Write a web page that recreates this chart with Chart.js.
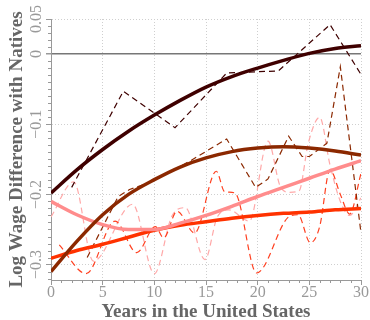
<!DOCTYPE html>
<html><head><meta charset="utf-8">
<script src="https://cdn.jsdelivr.net/npm/chart.js@4"></script>
<style>html,body{margin:0;padding:0;background:#fff}</style>
</head><body>
<canvas id="c" width="370" height="320"></canvas>
<script>
// tick positions and labels
const xTicks = [0, 5, 10, 15, 20, 25, 30];
const yTicks = [-0.3, -0.2, -0.1, 0, 0.05];
const yTickLabels = ['\u22120.3', '\u22120.2', '\u22120.1', '0', '0.05'];

// fitted (smooth) profiles, read every 2.5 years
const fitYears = [0, 2.5, 5, 7.5, 10, 12.5, 15, 17.5, 20, 22.5, 25, 27.5, 30];
const fitDark  = [-0.198, -0.165, -0.136, -0.110, -0.087, -0.066, -0.047, -0.032, -0.020, -0.009, 0.001, 0.008, 0.012];
const fitBrown = [-0.310, -0.267, -0.229, -0.200, -0.179, -0.161, -0.148, -0.139, -0.134, -0.132, -0.134, -0.138, -0.144];
const fitPink  = [-0.210, -0.229, -0.243, -0.250, -0.250, -0.241, -0.230, -0.217, -0.203, -0.190, -0.177, -0.164, -0.152];
const fitRed   = [-0.291, -0.280, -0.271, -0.261, -0.251, -0.244, -0.239, -0.234, -0.230, -0.227, -0.225, -0.222, -0.220];

// observed (dashed) profiles
const obsDarkYears  = [2, 7, 12, 17, 22, 27, 30];
const obsDark       = [-0.190, -0.053, -0.105, -0.027, -0.024, 0.042, -0.029];
const obsBrownYears = [3.5, 6.5, 7.6, 9, 11, 13.5, 17, 19.8, 21, 23, 24.3, 25, 26.7, 28, 30];
const obsBrown      = [-0.290, -0.203, -0.193, -0.186, -0.172, -0.152, -0.121, -0.190, -0.178, -0.117, -0.146, -0.146, -0.127, -0.018, -0.255];
const obsPinkYears  = [0, 2.2, 4.1, 7.9, 10, 11.7, 13, 14.9, 16.1, 17.2, 19.2, 21, 22.2, 23.1, 24, 24.9, 26, 27, 28, 28.9, 30];
const obsPink       = [-0.232, -0.182, -0.295, -0.214, -0.313, -0.231, -0.219, -0.293, -0.232, -0.222, -0.238, -0.124, -0.189, -0.197, -0.195, -0.127, -0.090, -0.158, -0.210, -0.230, -0.205];
const obsRedYears   = [0.8, 3.4, 6.2, 8.3, 10.1, 10.9, 12.2, 13.9, 16, 16.8, 17.8, 19.9, 23.1, 23.9, 25.1, 26, 27, 28, 28.9, 30];
const obsRed        = [-0.272, -0.313, -0.238, -0.283, -0.246, -0.262, -0.224, -0.255, -0.167, -0.196, -0.198, -0.312, -0.231, -0.229, -0.269, -0.246, -0.165, -0.200, -0.228, -0.170];

const zip = (xs, ys) => xs.map((x, i) => ({x: x, y: ys[i]}));

const C_DARK = '#3f0000', C_BROWN = '#8b2800', C_PINK = '#ff8c8c', C_RED = '#ff3200';
const SERIF = '"Liberation Serif", "DejaVu Serif", serif';

function solid(data, color, order) {
  return {data, borderColor: color, borderWidth: 3.5, pointRadius: 0, cubicInterpolationMode: 'monotone', order};
}
function dashed(data, color, order, smooth) {
  return {data, borderColor: color, borderWidth: 1.2, borderDash: [6, 4], pointRadius: 0,
          tension: 0, cubicInterpolationMode: smooth ? 'monotone' : 'default', order};
}

const minorTicks = {
  id: 'minorTicks',
  afterDraw(chart) {
    const {ctx, scales: {x, y}, chartArea: a} = chart;
    ctx.save();
    ctx.strokeStyle = '#999'; ctx.lineWidth = 1;
    ctx.beginPath();
    for (let i = 0; i <= 30; i++) {
      if (i % 5 === 0) continue;
      const px = Math.round(x.getPixelForValue(i)) + 0.5;
      ctx.moveTo(px, a.bottom); ctx.lineTo(px, a.bottom + 3);
    }
    for (let k = -32; k <= 5; k++) {
      if (k % 10 === 0 || k === 5) continue;
      const py = Math.round(y.getPixelForValue(k / 100)) + 0.5;
      ctx.moveTo(a.left - 3, py); ctx.lineTo(a.left, py);
    }
    ctx.stroke();
    ctx.restore();
  }
};

new Chart(document.getElementById('c'), {
  type: 'line',
  data: {
    datasets: [
      solid(zip(fitYears, fitDark), C_DARK, 1),
      solid(zip(fitYears, fitBrown), C_BROWN, 2),
      solid(zip(fitYears, fitPink), C_PINK, 3),
      solid(zip(fitYears, fitRed), C_RED, 4),
      dashed(zip(obsDarkYears, obsDark), C_DARK, 5, false),
      dashed(zip(obsBrownYears, obsBrown), C_BROWN, 6, false),
      dashed(zip(obsRedYears, obsRed), '#ff4020', 7, true),
      dashed(zip(obsPinkYears, obsPink), '#ffa8a8', 8, true)
    ]
  },
  options: {
    responsive: false,
    animation: false,
    devicePixelRatio: 1,
    layout: {padding: {top: 19, right: 9, left: 0, bottom: 0}},
    plugins: {legend: {display: false}, tooltip: {enabled: false}},
    scales: {
      x: {
        type: 'linear', min: 0, max: 30,
        afterBuildTicks: s => { s.ticks = xTicks.map(v => ({value: v})); },
        afterFit: s => { s.height = 40; },
        ticks: {autoSkip: false, maxRotation: 0, padding: 0, color: '#999',
                font: {family: SERIF, size: 16, lineHeight: 1},
                callback: v => String(v)},
        grid: {color: '#cfcfcf', lineWidth: 1, tickColor: '#999', tickLength: 5, tickBorderDash: []},
        border: {display: true, color: '#999', width: 1, dash: [1, 2]},
        title: {display: true, text: 'Years in the United States', color: '#666',
                font: {family: SERIF, size: 19, weight: 'bold', lineHeight: 0.85},
                padding: {top: 0, bottom: 0}}
      },
      y: {
        type: 'linear', min: -0.322, max: 0.05,
        afterBuildTicks: s => { s.ticks = yTicks.map(v => ({value: v})); },
        afterFit: s => { s.width = 51; },
        ticks: {autoSkip: false, minRotation: 90, maxRotation: 90, crossAlign: 'center',
                padding: -5.5, color: '#999',
                font: {family: SERIF, size: 16, lineHeight: 1},
                callback: v => yTickLabels[yTicks.indexOf(v)]},
        grid: {
          color: c => (c.tick && c.tick.value === 0) ? '#777' : '#cfcfcf',
          lineWidth: c => (c.tick && c.tick.value === 0) ? 1.5 : 1,
          tickColor: '#999', tickLength: 5, tickBorderDash: []
        },
        border: {display: true, color: '#999', width: 1,
                 dash: c => (c.tick && c.tick.value === 0) ? [] : [1, 2]},
        title: {display: true, text: 'Log Wage Difference with Natives', color: '#666',
                font: {family: SERIF, size: 19, weight: 'bold', lineHeight: 1},
                padding: {top: 8, bottom: 0}}
      }
    }
  },
  plugins: [minorTicks]
});
</script>
</body></html>
